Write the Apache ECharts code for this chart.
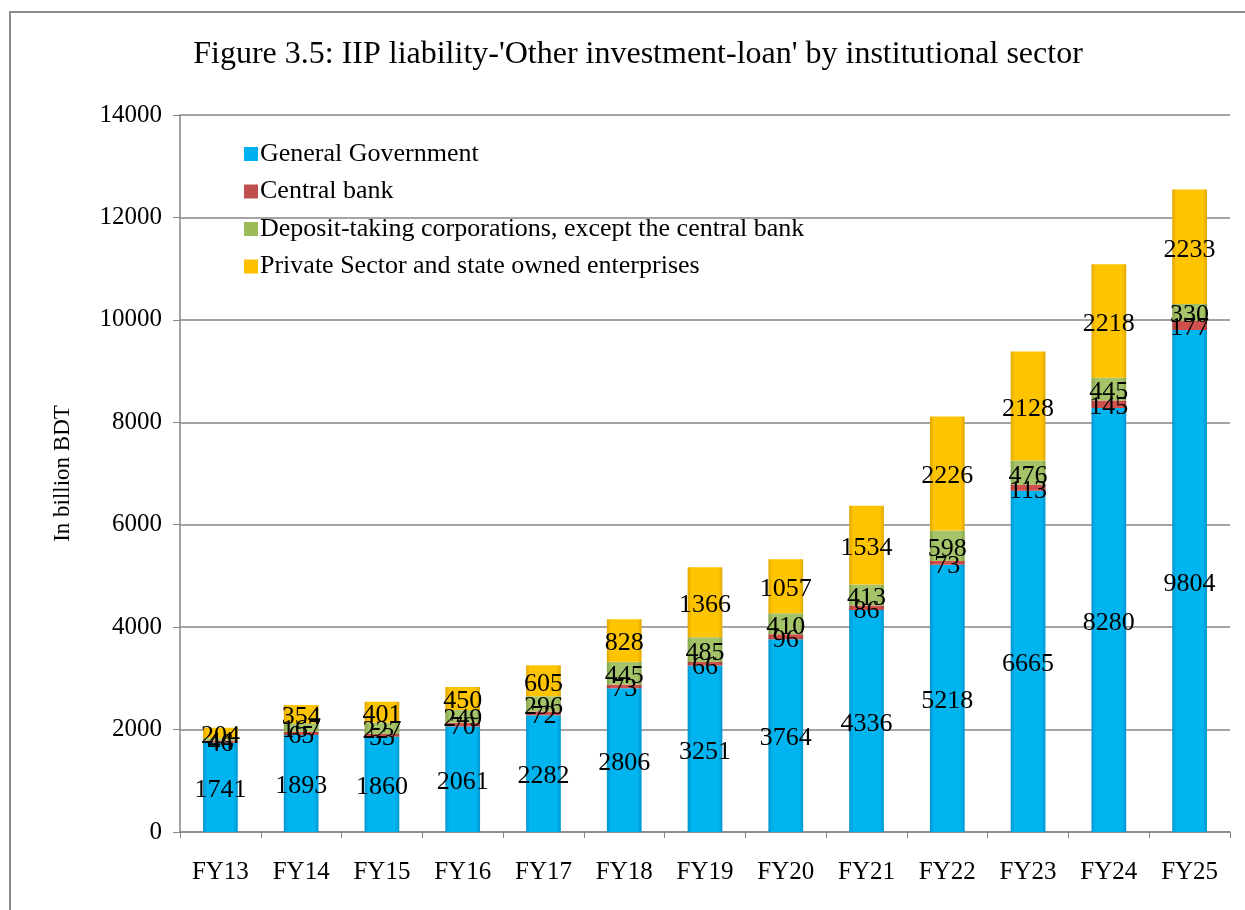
<!DOCTYPE html>
<html>
<head>
<meta charset="utf-8">
<style>
  html, body { margin: 0; padding: 0; background: #ffffff; }
  #chart { width: 1245px; height: 910px; }
</style>
<script src="https://cdn.jsdelivr.net/npm/echarts@6/dist/echarts.min.js"></script>
</head>
<body>
<div id="chart"></div>
<script>
// Fiscal years on the category axis
const categories = ['FY13','FY14','FY15','FY16','FY17','FY18','FY19','FY20','FY21','FY22','FY23','FY24','FY25'];

// Loan liabilities by institutional sector, billion BDT
const generalGovernment = [1741, 1893, 1860, 2061, 2282, 2806, 3251, 3764, 4336, 5218, 6665, 8280, 9804];
const centralBank       = [46, 65, 53, 70, 72, 73, 66, 96, 86, 73, 113, 145, 177];
const depositTaking     = [44, 167, 227, 249, 296, 445, 485, 410, 413, 598, 476, 445, 330];
const privateSector     = [204, 354, 401, 450, 605, 828, 1366, 1057, 1534, 2226, 2128, 2218, 2233];

const yTicks = [0, 2000, 4000, 6000, 8000, 10000, 12000, 14000];

const seriesNames = [
  'General Government',
  'Central bank',
  'Deposit-taking corporations, except the central bank',
  'Private Sector and state owned enterprises'
];

const FONT = '"Liberation Serif", "Times New Roman", serif';

// Bevelled bar fill: darker edges, lighter centre
function bevel(edge, mid) {
  return new echarts.graphic.LinearGradient(0, 0, 1, 0, [
    { offset: 0, color: edge },
    { offset: 0.12, color: mid },
    { offset: 0.88, color: mid },
    { offset: 1, color: edge }
  ]);
}

const fills = [
  bevel('#0096cf', '#00b4f0'),
  bevel('#a53d3a', '#d0504d'),
  bevel('#84a448', '#a5c46a'),
  bevel('#e0a800', '#ffc400')
];
const legendColors = ['#00b0f0', '#c0504d', '#9bbb59', '#ffc000'];
const dataSets = [generalGovernment, centralBank, depositTaking, privateSector];

const chart = echarts.init(document.getElementById('chart'));

chart.setOption({
  animation: false,
  backgroundColor: '#ffffff',
  graphic: [{
    type: 'rect',
    shape: { x: 10, y: 12, width: 1260, height: 920 },
    style: { fill: 'none', stroke: '#8c8c8c', lineWidth: 2 },
    silent: true
  }],
  title: {
    text: "Figure 3.5: IIP liability-'Other investment-loan' by institutional sector",
    left: 633,
    textAlign: 'center',
    top: 34,
    textStyle: { fontFamily: FONT, fontSize: 32, fontWeight: 'normal', color: '#000' }
  },
  legend: {
    orient: 'vertical',
    left: 239,
    top: 136,
    itemWidth: 14,
    itemHeight: 14,
    itemGap: 11.5,
    icon: 'rect',
    textStyle: { fontFamily: FONT, fontSize: 26, color: '#000', padding: [0, 0, 0, -3] },
    data: seriesNames.map((n, i) => ({ name: n, itemStyle: { color: legendColors[i] } }))
  },
  grid: { left: 180, right: 15, top: 115, bottom: 78, containLabel: false },
  xAxis: {
    type: 'category',
    data: categories,
    axisLine: { lineStyle: { color: '#868686', width: 1.5 } },
    axisTick: { show: true, alignWithLabel: false, length: 6, lineStyle: { color: '#868686' } },
    axisLabel: { fontFamily: FONT, fontSize: 25, color: '#000', margin: 28 }
  },
  yAxis: {
    type: 'value',
    min: yTicks[0],
    max: yTicks[yTicks.length - 1],
    interval: 2000,
    name: 'In billion BDT',
    nameLocation: 'middle',
    nameGap: 106,
    nameTextStyle: { fontFamily: FONT, fontSize: 23, color: '#000' },
    axisLine: { show: true, lineStyle: { color: '#868686', width: 1.5 } },
    axisTick: { show: true, length: 7, lineStyle: { color: '#868686' } },
    axisLabel: { fontFamily: FONT, fontSize: 25, color: '#000', margin: 18, formatter: v => String(v) },
    splitLine: { lineStyle: { color: '#868686', width: 1.5 } }
  },
  series: dataSets.map((vals, i) => ({
    name: seriesNames[i],
    type: 'bar',
    stack: 'total',
    barWidth: '43%',
    data: vals,
    itemStyle: { color: fills[i] },
    label: {
      show: true,
      position: 'inside',
      offset: [0, 3],
      fontFamily: FONT,
      fontSize: 26,
      color: '#000'
    }
  }))
});
</script>
</body>
</html>
